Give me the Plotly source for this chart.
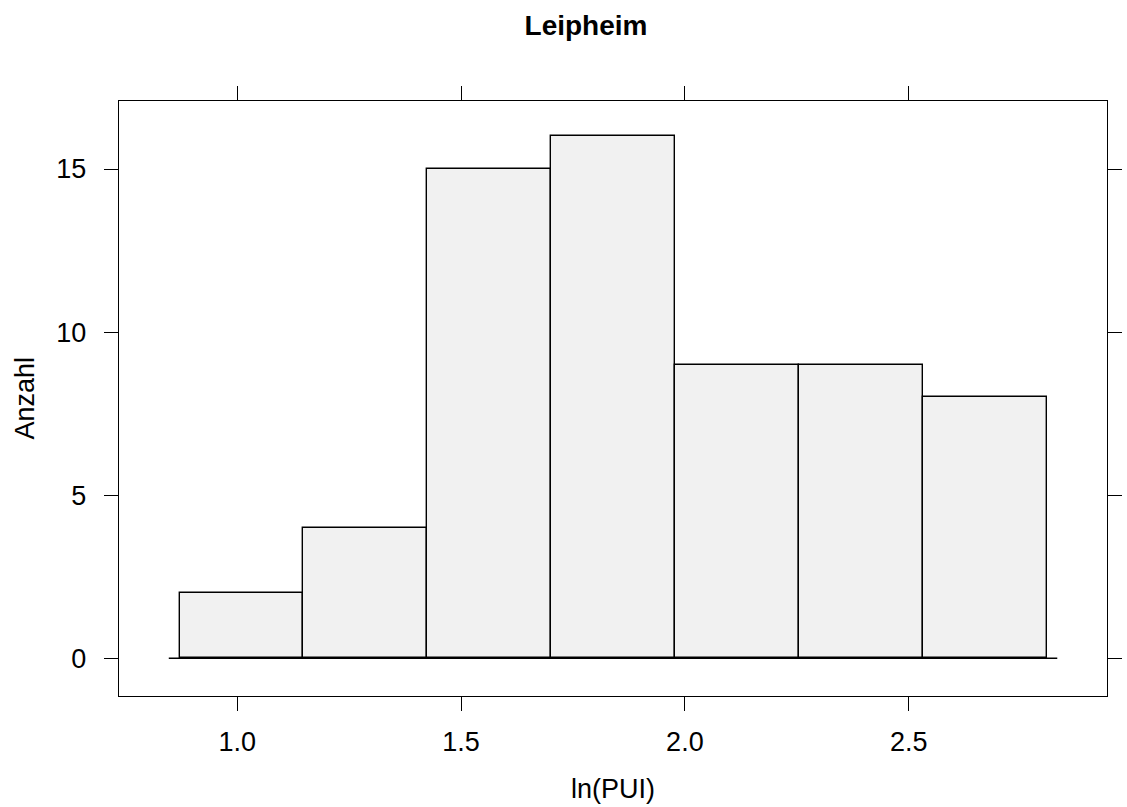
import plotly.graph_objects as go

# Data
breaks = [0.871, 1.1477, 1.4244, 1.7011, 1.9778, 2.2545, 2.5312, 2.8079]
counts = [2, 4, 15, 16, 9, 9, 8]
x_ticks = [1.0, 1.5, 2.0, 2.5]
x_ticklabels = ["1.0", "1.5", "2.0", "2.5"]
y_ticks = [0, 5, 10, 15]
y_ticklabels = ["0", "5", "10", "15"]

centers = [(a + b) / 2 for a, b in zip(breaks[:-1], breaks[1:])]
widths = [b - a for a, b in zip(breaks[:-1], breaks[1:])]

W, H = 1127, 807
ml, mr, mt, mb = 118.5, 4.3, 101, 111.3

fig = go.Figure()
fig.add_trace(go.Bar(
    x=centers, y=counts, width=widths,
    marker=dict(color="#F1F1F1", line=dict(color="black", width=1.4)),
    hoverinfo="skip",
))

ext = 0.024
fig.add_shape(type="line", xref="x", yref="y",
              x0=breaks[0] - ext, x1=breaks[-1] + ext, y0=0, y1=0,
              line=dict(color="black", width=1.4))

font = "Liberation Sans, Arial, sans-serif"
axis_common = dict(
    showline=True, linecolor="black", linewidth=1.4, mirror="ticks",
    ticks="outside", ticklen=14, tickwidth=1.4, tickcolor="black",
    showgrid=False, zeroline=False,
    tickfont=dict(family=font, size=27, color="black"),
)
fig.update_xaxes(range=[0.7358, 2.943], tickvals=x_ticks, ticktext=x_ticklabels,
                 ticklabelstandoff=7, **axis_common)
fig.update_yaxes(range=[-1.156, 17.086], tickvals=y_ticks, ticktext=y_ticklabels,
                 ticklabelstandoff=12, **axis_common)

fig.add_annotation(text="ln(PUI)", xref="paper", yref="paper", x=0.5, y=0,
                   yshift=-93, yanchor="middle", showarrow=False,
                   font=dict(family=font, size=27, color="black"))
fig.add_annotation(text="Anzahl", xref="paper", yref="paper", x=0, y=0.5,
                   xshift=-95, xanchor="center", textangle=-90, showarrow=False,
                   font=dict(family=font, size=27, color="black"))

fig.update_layout(
    width=W, height=H,
    margin=dict(l=ml, r=mr, t=mt, b=mb, pad=0),
    plot_bgcolor="white", paper_bgcolor="white",
    showlegend=False, bargap=0,
    title=dict(text="<b>Leipheim</b>", x=586 / W, xanchor="center",
               y=1 - 25 / H, yanchor="middle", yref="container",
               font=dict(family=font, size=28, color="black")),
)

fig.write_html("out.html")
